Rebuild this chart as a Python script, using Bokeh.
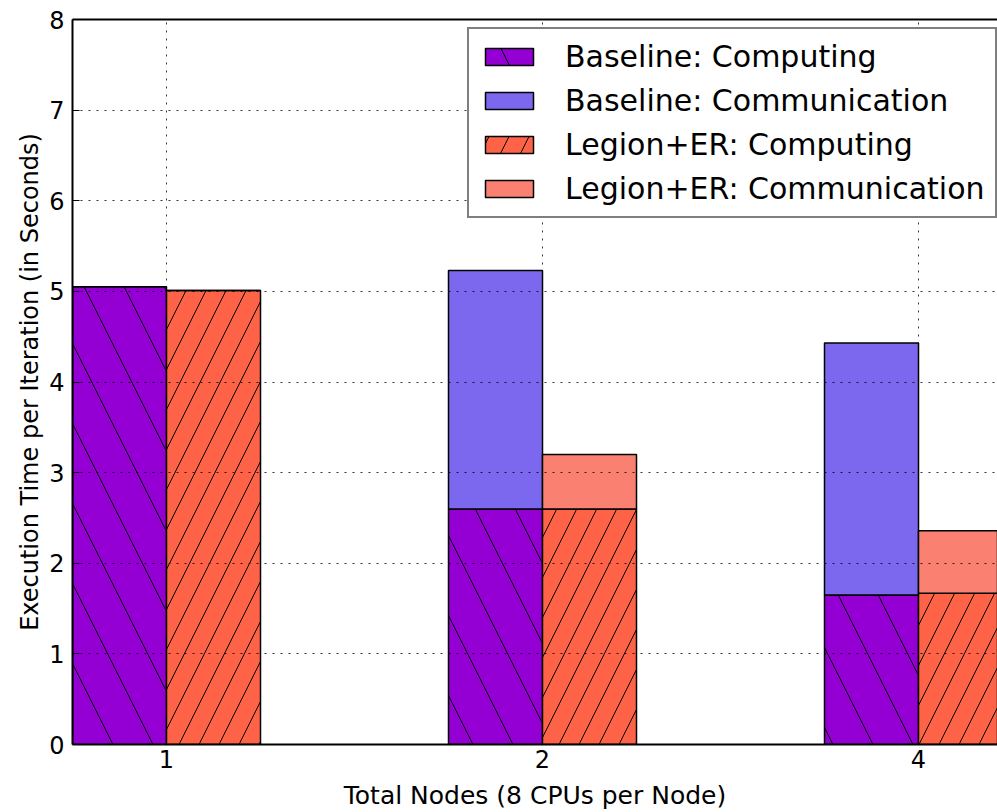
import numpy as np
from bokeh.plotting import figure
from bokeh.models import Range1d, LinearAxis, FixedTicker, Legend, LegendItem, ColumnDataSource
from bokeh.embed import file_html
from bokeh.resources import INLINE

# ---- data ----
nodes = ["1", "2", "4"]
baseline_computing = [5.05, 2.60, 1.65]
baseline_communication = [0.0, 2.63, 2.78]
legion_computing = [5.01, 2.60, 1.67]
legion_communication = [0.0, 0.60, 0.69]
y_ticks = [0, 1, 2, 3, 4, 5, 6, 7, 8]

FONT = "DejaVu Sans"
W, H = 997, 812
LEFT = 72
TOP = 19
bar_w = 0.25
px_per_unit = 376.0
frame_w = W - LEFT
x_start = -0.25
x_end = x_start + frame_w / px_per_unit

xs = np.arange(len(nodes))
bc = np.array(baseline_computing)
bm = np.array(baseline_communication)
lc = np.array(legion_computing)
lm = np.array(legion_communication)

src = ColumnDataSource(dict(
    xb=xs - bar_w / 2, xl=xs + bar_w / 2,
    bc=bc, bm_top=bc + bm,
    lc=lc, lm_top=lc + lm,
))

p = figure(width=W, height=H, output_backend="svg", toolbar_location=None,
           x_range=Range1d(x_start, x_end), y_range=Range1d(0, 8),
           min_border_left=LEFT, min_border_right=0, min_border_top=TOP,
           min_border_bottom=0, outline_line_color=None)
p.background_fill_color = "white"
p.border_fill_color = "white"

r1 = p.vbar(x="xb", top="bc", bottom=0, width=bar_w, source=src,
            fill_color="#9400D3", line_color="black", line_width=1.5,
            hatch_pattern="\\", hatch_scale=80, hatch_color="black", hatch_weight=1)
r2 = p.vbar(x="xb", top="bm_top", bottom="bc", width=bar_w, source=src,
            fill_color="#7B68EE", line_color="black", line_width=1.5)
r3 = p.vbar(x="xl", top="lc", bottom=0, width=bar_w, source=src,
            fill_color="#FF6347", line_color="black", line_width=1.5,
            hatch_pattern="/", hatch_scale=40, hatch_color="black", hatch_weight=1)
r4 = p.vbar(x="xl", top="lm_top", bottom="lc", width=bar_w, source=src,
            fill_color="#FA8072", line_color="black", line_width=1.5)

# axes
p.xaxis.ticker = FixedTicker(ticks=list(xs))
p.xaxis.major_label_overrides = {int(i): n for i, n in zip(xs, nodes)}
p.yaxis.ticker = FixedTicker(ticks=y_ticks)
for ax in (p.xaxis[0], p.yaxis[0]):
    ax.axis_line_width = 2
    ax.axis_line_color = "black"
    ax.major_tick_in = 7
    ax.major_tick_out = 0
    ax.major_tick_line_width = 1
    ax.minor_tick_line_color = None
    ax.major_label_text_font = FONT
    ax.major_label_text_font_size = "24px"
    ax.major_label_text_color = "black"
    ax.axis_label_text_font = FONT
    ax.axis_label_text_font_style = "normal"
    ax.axis_label_text_color = "black"
p.xaxis.axis_label_text_font_size = "25px"
p.yaxis.axis_label_text_font_size = "24px"
p.xaxis.axis_label = "Total Nodes (8 CPUs per Node)"
p.yaxis.axis_label = "Execution Time per Iteration (in Seconds)"
p.xaxis.major_label_standoff = 5
p.xaxis.axis_label_standoff = 10
p.yaxis.major_label_standoff = 8
p.yaxis.axis_label_standoff = 2

top_axis = LinearAxis(ticker=FixedTicker(ticks=[]), axis_line_width=2,
                      axis_line_color="black", minor_tick_line_color=None)
p.add_layout(top_axis, "above")

# grid on top of bars
for g in (p.xgrid[0], p.ygrid[0]):
    g.grid_line_color = "black"
    g.grid_line_alpha = 0.8
    g.grid_line_dash = "2 6"
    g.grid_line_width = 1
    g.level = "overlay"
p.xgrid.ticker = FixedTicker(ticks=list(xs))
p.ygrid.ticker = FixedTicker(ticks=y_ticks)

legend = Legend(items=[
    LegendItem(label="Baseline: Computing", renderers=[r1]),
    LegendItem(label="Baseline: Communication", renderers=[r2]),
    LegendItem(label="Legion+ER: Computing", renderers=[r3]),
    LegendItem(label="Legion+ER: Communication", renderers=[r4]),
], location=(395, 526))
legend.margin = 0
legend.padding = 10
legend.spacing = 9
legend.glyph_width = 60
legend.glyph_height = 21
legend.label_standoff = 26
legend.label_text_font = FONT
legend.label_text_font_size = "30px"
legend.label_text_color = "black"
legend.border_line_color = "black"
legend.border_line_width = 2
legend.background_fill_alpha = 1.0
p.add_layout(legend, "center")

open("out.html", "w").write(file_html(p, INLINE))
